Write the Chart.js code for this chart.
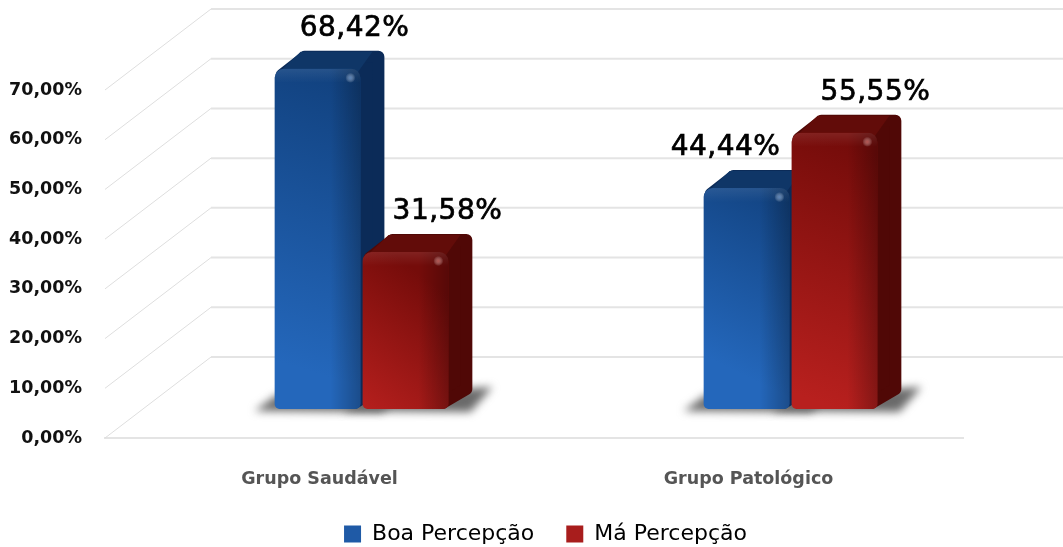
<!DOCTYPE html>
<html>
<head>
<meta charset="utf-8">
<title>Percepção</title>
<script src="https://cdn.jsdelivr.net/npm/chart.js@4"></script>
<style>
html, body { margin: 0; padding: 0; background: #fff; }
canvas { display: block; }
</style>
</head>
<body>
<canvas id="grafico" width="1063" height="547"></canvas>
<script>
var categorias = ['Grupo Saudável', 'Grupo Patológico'];
var boaPercepcao = [68.42, 44.44];
var maPercepcao = [31.58, 55.55];
var yTickLabels = ['0,00%', '10,00%', '20,00%', '30,00%', '40,00%', '50,00%', '60,00%', '70,00%'];

// deslocamentos do falso 3D
var parede = { dx: 106, dy: -81 };
var frente = { dx: 42, dy: -29 };
var prof = { dx: 24, dy: -18 };

var cores = [
    { claro: '#2467bb', escuro: '#103f7b', topo: '#0f3667', lado: '#0b2b58', legenda: '#1f5aa6', luz: 'rgba(120,160,215,0.7)' },
    { claro: '#b8201e', escuro: '#750c0a', topo: '#620c09', lado: '#500806', legenda: '#a81d1c', luz: 'rgba(215,110,105,0.7)' }
];
// ajuste horizontal de cada rótulo em relação à barra
var rotuloDx = [[37, -21], [42, 41]];

function formata(v) {
    return v.toFixed(2).replace('.', ',') + '%';
}

function gradienteFrente(context, i) {
    var chart = context.chart;
    if (!chart.scales.y || !chart.scales.x) return cores[i].claro;
    var topo = chart.scales.y.getPixelForValue(context.raw);
    var base = chart.scales.y.getPixelForValue(0);
    var cx = chart.scales.x.getPixelForTick(context.dataIndex);
    var g = chart.ctx.createLinearGradient(cx - 60, base - 40, cx + 30, topo);
    g.addColorStop(0, cores[i].claro);
    g.addColorStop(1, cores[i].escuro);
    return g;
}

function contorno(ctx, pontos, cor) {
    ctx.beginPath();
    pontos.forEach(function(p, i) {
        if (i === 0) ctx.moveTo(p[0], p[1]);
        else ctx.lineTo(p[0], p[1]);
    });
    ctx.closePath();
    ctx.fillStyle = cor;
    ctx.strokeStyle = cor;
    ctx.lineWidth = 12;
    ctx.lineJoin = 'round';
    ctx.fill();
    ctx.stroke();
}

var falso3d = {
    id: 'falso3d',
    beforeDatasetsDraw: function(chart) {
        var ctx = chart.ctx;
        var area = chart.chartArea;
        var y = chart.scales.y;

        // paredes
        ctx.save();
        y.ticks.forEach(function(t) {
            var py = y.getPixelForValue(t.value);
            ctx.beginPath();
            ctx.moveTo(area.left, py);
            ctx.lineTo(area.left + parede.dx, py + parede.dy);
            ctx.strokeStyle = '#dedede';
            ctx.lineWidth = 1;
            ctx.stroke();
            ctx.beginPath();
            ctx.moveTo(area.left + parede.dx, py + parede.dy);
            ctx.lineTo(chart.width, py + parede.dy);
            ctx.strokeStyle = '#e4e4e4';
            ctx.lineWidth = 2;
            ctx.stroke();
        });
        ctx.restore();

        ctx.save();
        ctx.translate(frente.dx, frente.dy);

        // sombra no chão
        ctx.save();
        ctx.filter = 'blur(4px)';
        ctx.fillStyle = '#6a6a6a';
        chart.data.datasets.forEach(function(ds, i) {
            chart.getDatasetMeta(i).data.forEach(function(el) {
                var x0 = el.x - el.width / 2, x1 = el.x + el.width / 2;
                ctx.beginPath();
                ctx.moveTo(x0 - 20, el.base + 2);
                ctx.lineTo(x0 + 2, el.base - 14);
                ctx.lineTo(x1 + 44, el.base - 22);
                ctx.lineTo(x1 + 22, el.base + 3);
                ctx.closePath();
                ctx.fill();
            });
        });
        ctx.restore();

        // topo e lateral, azul primeiro para o vermelho ficar por cima
        chart.data.datasets.forEach(function(ds, i) {
            chart.getDatasetMeta(i).data.forEach(function(el) {
                var x0 = el.x - el.width / 2, x1 = el.x + el.width / 2;
                var t = el.y, b = el.base;
                contorno(ctx, [
                    [x0 + 7, t + 6],
                    [x0 + prof.dx + 6, t + prof.dy + 6],
                    [x1 + prof.dx - 6, t + prof.dy + 6],
                    [x1 + prof.dx - 6, b + prof.dy - 2],
                    [x1 - 6, b - 6],
                    [x0 + 7, b - 6]
                ], cores[i].lado);
                ctx.beginPath();
                ctx.moveTo(x0 + 5, t + 3);
                ctx.lineTo(x0 + prof.dx + 2, t + prof.dy + 1);
                ctx.lineTo(x1 + prof.dx - 12, t + prof.dy + 1);
                ctx.lineTo(x1 - 3, t + 4);
                ctx.closePath();
                ctx.fillStyle = cores[i].topo;
                ctx.fill();
            });
        });
    },
    afterDatasetDraw: function(chart, args) {
        var ctx = chart.ctx;
        var i = args.index;
        args.meta.data.forEach(function(el) {
            var x0 = el.x - el.width / 2, x1 = el.x + el.width / 2;
            var t = el.y, b = el.base;

            ctx.save();
            ctx.beginPath();
            ctx.roundRect(x0, t, x1 - x0, b - t, [9, 9, 5, 5]);
            ctx.clip();

            // sombreado da direita
            var g = ctx.createLinearGradient(x1 - 30, 0, x1, 0);
            g.addColorStop(0, 'rgba(0,0,0,0)');
            g.addColorStop(1, 'rgba(0,0,0,0.26)');
            ctx.fillStyle = g;
            ctx.fillRect(x1 - 30, t, 30, b - t);

            // chanfro de cima
            var g2 = ctx.createLinearGradient(0, t, 0, t + 14);
            g2.addColorStop(0, 'rgba(255,255,255,0.09)');
            g2.addColorStop(1, 'rgba(255,255,255,0)');
            ctx.fillStyle = g2;
            ctx.fillRect(x0, t, x1 - x0, 14);

            // brilho do canto
            var hx = x1 - 10, hy = t + 9;
            var r = ctx.createRadialGradient(hx, hy, 0, hx, hy, 5);
            r.addColorStop(0, cores[i].luz);
            r.addColorStop(1, 'rgba(255,255,255,0)');
            ctx.fillStyle = r;
            ctx.fillRect(hx - 5, hy - 5, 10, 10);
            ctx.restore();
        });
    },
    afterDatasetsDraw: function(chart) {
        var ctx = chart.ctx;
        ctx.restore();

        // rótulos dos valores
        ctx.save();
        ctx.font = '28px "DejaVu Sans"';
        ctx.letterSpacing = '0.5px';
        ctx.textAlign = 'center';
        ctx.textBaseline = 'middle';
        ctx.fillStyle = '#000';
        ctx.strokeStyle = '#000';
        ctx.lineWidth = 0.7;
        chart.data.datasets.forEach(function(ds, i) {
            chart.getDatasetMeta(i).data.forEach(function(el, j) {
                var texto = formata(ds.data[j]);
                var lx = el.x + frente.dx + rotuloDx[i][j];
                var ly = el.y + frente.dy - 40;
                ctx.fillText(texto, lx, ly);
                ctx.strokeText(texto, lx, ly);
            });
        });
        ctx.restore();
    },
    afterLayout: function(chart) {
        // a legenda fica centrada mais à direita que a área do gráfico
        chart.legend.left += 64;
        chart.legend.right += 64;
        chart.legend.top += 11;
        chart.legend.bottom += 11;
        // os rótulos do eixo x passam da caixa do eixo e seriam cortados
        chart.scales.x.bottom += 30;
    }
};

new Chart(document.getElementById('grafico').getContext('2d'), {
    type: 'bar',
    data: {
        labels: categorias,
        datasets: [{
            label: 'Boa Percepção',
            data: boaPercepcao,
            backgroundColor: function(c) { return gradienteFrente(c, 0); },
            borderWidth: 0,
            borderSkipped: false,
            borderRadius: { topLeft: 9, topRight: 9, bottomLeft: 5, bottomRight: 5 },
            categoryPercentage: 0.41,
            barPercentage: 0.975,
            clip: false
        }, {
            label: 'Má Percepção',
            data: maPercepcao,
            backgroundColor: function(c) { return gradienteFrente(c, 1); },
            borderWidth: 0,
            borderSkipped: false,
            borderRadius: { topLeft: 9, topRight: 9, bottomLeft: 5, bottomRight: 5 },
            categoryPercentage: 0.41,
            barPercentage: 0.975,
            clip: false
        }]
    },
    options: {
        responsive: false,
        animation: false,
        layout: { padding: { top: 90, right: 100, bottom: 3, left: 0 } },
        scales: {
            x: {
                grid: { display: false, drawTicks: false },
                border: { color: '#e4e4e4', width: 2 },
                ticks: {
                    padding: 31,
                    color: '#555',
                    font: { family: '"DejaVu Sans"', size: 17.5, weight: 'bold' }
                },
                afterFit: function(s) { s.height = 42; }
            },
            y: {
                min: 0,
                max: 70,
                grid: { display: false, drawTicks: false },
                border: { display: false },
                ticks: {
                    stepSize: 10,
                    padding: 23,
                    color: '#111',
                    font: { family: '"DejaVu Sans"', size: 17.5, weight: 'bold' },
                    callback: function(v, i) { return yTickLabels[i]; }
                },
                afterFit: function(s) { s.width = 105; }
            }
        },
        plugins: {
            tooltip: { enabled: false },
            legend: {
                position: 'bottom',
                labels: {
                    boxWidth: 17,
                    boxHeight: 17,
                    padding: 32,
                    color: '#000',
                    font: { family: '"DejaVu Sans"', size: 22 },
                    generateLabels: function(chart) {
                        return chart.data.datasets.map(function(ds, i) {
                            return {
                                text: ds.label,
                                fillStyle: cores[i].legenda,
                                strokeStyle: cores[i].legenda,
                                lineWidth: 0,
                                datasetIndex: i
                            };
                        });
                    }
                }
            }
        }
    },
    plugins: [falso3d]
});
</script>
</body>
</html>
